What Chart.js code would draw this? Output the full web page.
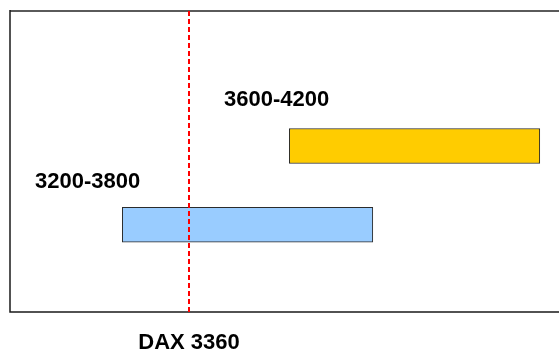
<!DOCTYPE html>
<html>
<head>
<meta charset="utf-8">
<script src="https://cdn.jsdelivr.net/npm/chart.js@4/dist/chart.umd.min.js"></script>
<style>
  html, body { margin: 0; padding: 0; background: #ffffff; }
  #wrap { width: 559px; height: 352px; }
</style>
</head>
<body>
<div id="wrap"><canvas id="c" width="559" height="352"></canvas></div>
<script>
// Price ranges, one floating bar per range
const rangeLabels = ['3600-4200', '3200-3800'];
const rangeLow = [3600, 3200];
const rangeHigh = [4200, 3800];
const rangeColors = ['#FFCC00', '#99CCFF'];

// Current index level marked by the dashed line
const markerLabel = 'DAX 3360';
const markerValue = 3360;

const bars = rangeLabels.map((_, i) => ({ x: [rangeLow[i], rangeHigh[i]], y: i }));

const framePlugin = {
  id: 'frame',
  beforeDatasetsDraw(chart) {
    const { ctx, chartArea: a } = chart;
    ctx.save();
    ctx.lineCap = 'butt';
    // top edge
    ctx.strokeStyle = '#5a5a5a';
    ctx.lineWidth = 2;
    ctx.beginPath(); ctx.moveTo(a.left, a.top); ctx.lineTo(a.right, a.top); ctx.stroke();
    // left and bottom edges
    ctx.strokeStyle = '#1a1a1a';
    ctx.lineWidth = 1.5;
    ctx.beginPath(); ctx.moveTo(a.left, a.top - 1); ctx.lineTo(a.left, a.bottom); ctx.lineTo(a.right, a.bottom); ctx.stroke();
    ctx.restore();
  }
};

const markerPlugin = {
  id: 'marker',
  afterDatasetsDraw(chart, args, opts) {
    const { ctx, chartArea: a, scales } = chart;
    const x = Math.round(scales.x.getPixelForValue(markerValue));
    ctx.save();
    ctx.strokeStyle = '#ff0000';
    ctx.lineWidth = 2;
    ctx.setLineDash([5, 3]);
    ctx.beginPath();
    ctx.moveTo(x, a.top);
    ctx.lineTo(x, a.bottom + 2);
    ctx.stroke();
    ctx.setLineDash([]);
    ctx.fillStyle = '#000000';
    ctx.font = 'bold 22px "Liberation Sans", Arial, sans-serif';
    ctx.textAlign = 'center';
    ctx.textBaseline = 'alphabetic';
    ctx.fillText(markerLabel, x, a.bottom + 37);
    // range captions
    ctx.textAlign = 'left';
    opts.captions.forEach((c, i) => ctx.fillText(rangeLabels[i], c.x, c.y));
    ctx.restore();
  }
};

new Chart(document.getElementById('c'), {
  type: 'bar',
  data: {
    datasets: [{
      data: bars,
      backgroundColor: rangeColors,
      borderColor: '#2b2b2b',
      borderWidth: 1,
      borderSkipped: false,
      barThickness: 35
    }]
  },
  options: {
    indexAxis: 'y',
    responsive: false,
    animation: false,
    layout: { padding: { left: 10, top: 11, right: 0, bottom: 40 } },
    scales: {
      x: { type: 'linear', min: 2931, max: 4246, display: false },
      y: { type: 'linear', min: -1.715, max: 2.109, reverse: true, offset: false, display: false }
    },
    plugins: {
      legend: { display: false },
      tooltip: { enabled: false },
      marker: { captions: [{ x: 224, y: 106 }, { x: 35, y: 188 }] }
    }
  },
  plugins: [framePlugin, markerPlugin]
});
</script>
</body>
</html>
